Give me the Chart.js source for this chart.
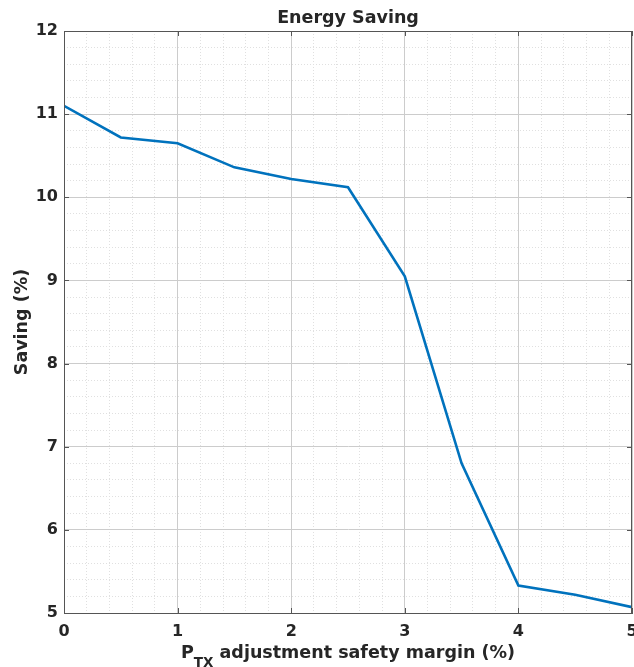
<!DOCTYPE html>
<html>
<head>
<meta charset="utf-8">
<script src="https://cdn.jsdelivr.net/npm/chart.js@4/dist/chart.umd.min.js"></script>
<style>
  html, body { margin: 0; padding: 0; background: #fff; overflow: hidden; }
  #wrap { width: 634px; height: 667px; }
</style>
</head>
<body>
<div id="wrap"><canvas id="c"></canvas></div>
<script>
  // data
  const margins = [0, 0.5, 1, 1.5, 2, 2.5, 3, 3.5, 4, 4.5, 5];
  const saving  = [11.1, 10.72, 10.65, 10.36, 10.22, 10.12, 9.05, 6.80, 5.33, 5.22, 5.07];
  const xTicks  = [0, 1, 2, 3, 4, 5];
  const yTicks  = [5, 6, 7, 8, 9, 10, 11, 12];

  const FONT = 'DejaVu Sans';
  const TXT  = '#262626';
  const AXIS = '#555555';

  // box round the axes, inward tick marks, and the x label with subscript
  const matlabLook = {
    id: 'matlabLook',
    afterDraw(chart) {
      const { ctx, chartArea: a, scales } = chart;
      ctx.save();
      ctx.strokeStyle = AXIS;
      ctx.lineWidth = 1;
      ctx.strokeRect(a.left + 0.5, a.top + 0.5, a.right - a.left - 1, a.bottom - a.top);
      ctx.beginPath();
      xTicks.forEach(v => {
        const px = Math.round(scales.x.getPixelForValue(v)) + 0.5;
        ctx.moveTo(px, a.bottom); ctx.lineTo(px, a.bottom - 5);
        ctx.moveTo(px, a.top);    ctx.lineTo(px, a.top + 5);
      });
      yTicks.forEach(v => {
        const py = Math.round(scales.y.getPixelForValue(v)) + 0.5;
        ctx.moveTo(a.left, py);  ctx.lineTo(a.left + 5, py);
        ctx.moveTo(a.right, py); ctx.lineTo(a.right - 5, py);
      });
      ctx.stroke();

      // x axis label: P_TX adjustment safety margin (%)
      const big = `bold 17.5px "${FONT}"`, small = `bold 13.5px "${FONT}"`;
      const p = 'P', sub = 'TX', rest = ' adjustment safety margin (%)';
      ctx.font = big;  const wP = ctx.measureText(p).width, wR = ctx.measureText(rest).width;
      ctx.font = small; const wS = ctx.measureText(sub).width;
      let x = (a.left + a.right) / 2 - (wP + wS + wR) / 2;
      const base = 658;
      ctx.fillStyle = TXT;
      ctx.textBaseline = 'alphabetic';
      ctx.textAlign = 'left';
      ctx.font = big;   ctx.fillText(p, x, base);    x += wP;
      ctx.font = small; ctx.fillText(sub, x, base + 9); x += wS;
      ctx.font = big;   ctx.fillText(rest, x, base);
      ctx.restore();
    }
  };

  new Chart(document.getElementById('c'), {
    type: 'line',
    data: {
      datasets: [{
        data: margins.map((m, i) => ({ x: m, y: saving[i] })),
        borderColor: '#0072BD',
        borderWidth: 2.6,
        pointRadius: 0,
        tension: 0,
        fill: false
      }]
    },
    options: {
      responsive: true,
      maintainAspectRatio: false,
      animation: false,
      layout: { padding: { left: 0, right: 2, top: 0, bottom: 0 } },
      plugins: {
        legend: { display: false },
        tooltip: { enabled: false },
        title: {
          display: true,
          text: 'Energy Saving',
          fullSize: false,
          color: TXT,
          font: { family: FONT, size: 17.5, weight: 'bold' },
          padding: { top: 8, bottom: 2 }
        }
      },
      scales: {
        xm: {
          type: 'linear', position: 'bottom', min: 0, max: 5,
          ticks: { display: false, stepSize: 0.2 },
          grid: { color: '#e0e0e0', drawTicks: false },
          border: { display: false, dash: [1, 2] },
          afterFit: s => { s.height = 0; s.paddingLeft = 0; s.paddingRight = 0; }
        },
        ym: {
          type: 'linear', position: 'left', min: 5, max: 12,
          ticks: { display: false, stepSize: 0.2 },
          grid: { color: '#e0e0e0', drawTicks: false },
          border: { display: false, dash: [1, 2] },
          afterFit: s => { s.width = 0; s.paddingTop = 0; s.paddingBottom = 0; }
        },
        x: {
          type: 'linear', position: 'bottom', min: 0, max: 5,
          ticks: { stepSize: 1, color: TXT, padding: 9, font: { family: FONT, size: 16, weight: 'bold' } },
          grid: { color: '#cccccc', drawTicks: false },
          border: { color: AXIS },
          afterFit: s => { s.height = 54; s.paddingLeft = 0; s.paddingRight = 0; }
        },
        y: {
          type: 'linear', position: 'left', min: 5, max: 12,
          ticks: { stepSize: 1, color: TXT, padding: 6, font: { family: FONT, size: 16, weight: 'bold' } },
          grid: { color: '#cccccc', drawTicks: false },
          border: { color: AXIS },
          title: {
            display: true, text: 'Saving (%)', color: TXT,
            font: { family: FONT, size: 17.5, weight: 'bold' },
            padding: { top: 12, bottom: 0 }
          },
          afterFit: s => { s.width = 64; s.paddingTop = 0; s.paddingBottom = 0; }
        }
      }
    },
    plugins: [matlabLook]
  });
</script>
</body>
</html>
